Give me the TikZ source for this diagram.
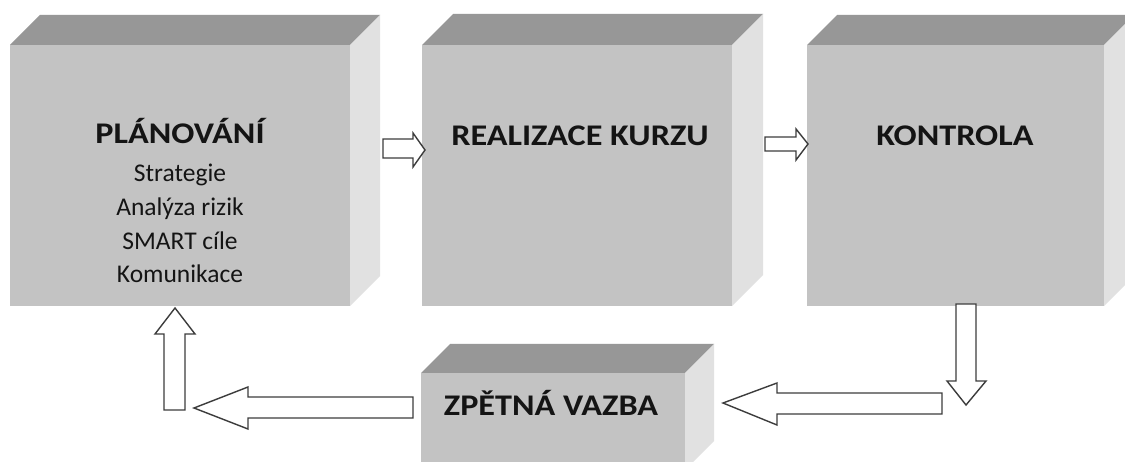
\documentclass[tikz,border=0pt]{standalone}
\usepackage{fontspec}
\usepackage{graphicx}
\setmainfont{Carlito}
\definecolor{frontc}{HTML}{C3C3C3}
\definecolor{topc}{HTML}{979797}
\definecolor{sidec}{HTML}{E1E1E1}
\definecolor{arrc}{HTML}{3C3C3C}
\definecolor{txtc}{HTML}{141414}
\newcommand\mycube[6]{% name, x1, y1, x2, y2, depth
  \fill[topc] (#2,#3) -- ++(#6,-#6) -- (#4+#6,#3-#6) -- (#4,#3) -- cycle;
  \fill[sidec] (#4,#3) -- (#4+#6,#3-#6) -- (#4+#6,#5-#6) -- (#4,#5) -- cycle;
  \fill[frontc] (#2,#3) rectangle (#4,#5);
  \coordinate (#1) at ({(#2+#4)/2},{(#3+#5)/2});
}
\newcommand\wide[1]{\scalebox{1.14}[1]{#1}}
\begin{document}
\begin{tikzpicture}[x=1pt,y=-1pt,
  blockarrow/.style={draw=arrc,fill=white,line width=1.4pt,line join=miter},
  title/.style={anchor=base,font=\bfseries\fontsize{30}{30}\selectfont,text=txtc,inner sep=0pt},
  item/.style={anchor=base,font=\fontsize{25.5}{25.5}\selectfont,text=txtc,inner sep=0pt}]
\useasboundingbox (0,0) rectangle (1125,462);
\fill[white] (0,0) rectangle (1125,462);
% boxes
\mycube{planovani}{10}{45}{350}{306}{30}
\mycube{realizace}{422}{45}{732}{306}{31}
\mycube{kontrola}{807}{45}{1104}{306}{30}
\mycube{zpetna}{421}{373}{685}{470}{29}
% texts
\node[title] (t1) at (180,144) {\wide{PLÁNOVÁNÍ}};
\node[item] (l1) at (180,182) {Strategie};
\node[item] (l2) at (180,216) {Analýza rizik};
\node[item] (l3) at (180,250) {SMART cíle};
\node[item] (l4) at (180,283) {Komunikace};
\node[title] (t2) at (580,146) {\wide{REALIZACE KURZU}};
\node[title] (t3) at (955,146) {\wide{KONTROLA}};
\node[title] (t4) at (551,415) {\wide{ZPĚTNÁ VAZBA}};
% block arrows
\draw[blockarrow] (383,139) -- (413,139) -- (413,133) -- (425,150) -- (413,167) -- (413,158) -- (383,158) -- cycle;
\draw[blockarrow] (765,137) -- (796,137) -- (796,129) -- (808,144) -- (796,160) -- (796,151) -- (765,151) -- cycle;
\draw[blockarrow] (164,410) -- (164,334) -- (155,334) -- (175,308) -- (195,334) -- (185,334) -- (185,410) -- cycle;
\draw[blockarrow] (413,397) -- (248,397) -- (248,387) -- (194,408) -- (248,429) -- (248,418) -- (413,418) -- cycle;
\draw[blockarrow] (956,304) -- (976,304) -- (976,381) -- (986,381) -- (966,405) -- (947,381) -- (956,381) -- cycle;
\draw[blockarrow] (942,393) -- (777,393) -- (777,383) -- (723,403) -- (777,425) -- (777,414) -- (942,414) -- cycle;
\end{tikzpicture}
\end{document}
